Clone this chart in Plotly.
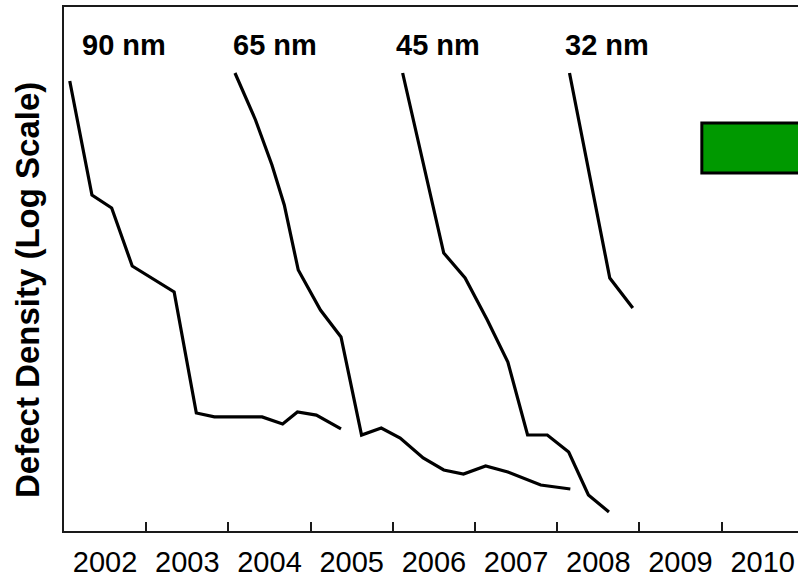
import math
import plotly.graph_objects as go

# Defect density learning curves per technology node (log scale, defects/cm²)
years = [2002, 2003, 2004, 2005, 2006, 2007, 2008, 2009, 2010]
year_labels = [str(y) for y in years]

nm90_x = [2002.07, 2002.34, 2002.58, 2002.83, 2003.34, 2003.61, 2003.83,
          2004.41, 2004.66, 2004.84, 2005.07, 2005.37]
nm90_y = [3.77, 0.839, 0.707, 0.329, 0.2335, 0.0474, 0.0450,
          0.0450, 0.0410, 0.0480, 0.0461, 0.0384]

nm65_x = [2004.08, 2004.33, 2004.53, 2004.68, 2004.85, 2005.12, 2005.37,
          2005.62, 2005.86, 2006.09, 2006.37, 2006.62, 2006.86, 2007.13,
          2007.40, 2007.80, 2008.16]
nm65_y = [4.19, 2.255, 1.245, 0.7355, 0.3121, 0.1842, 0.1290,
          0.03544, 0.03888, 0.03406, 0.02618, 0.02235, 0.02120, 0.02355,
          0.02177, 0.01834, 0.01740]

nm45_x = [2006.12, 2006.62, 2006.88, 2007.15, 2007.40, 2007.64, 2007.88,
          2008.14, 2008.38, 2008.63]
nm45_y = [4.19, 0.3905, 0.2809, 0.1614, 0.0928, 0.03544, 0.03544,
          0.02834, 0.01608, 0.01285]

nm32_x = [2008.15, 2008.64, 2008.92]
nm32_y = [4.19, 0.2809, 0.1891]

# Target window for the next node
target_x = [2009.76, 2011.3]
target_y = [1.121, 2.168]

node_names = ["90 nm", "65 nm", "45 nm", "32 nm"]
node_label_x = [2002.19, 2004.03, 2006.02, 2008.07]
node_label_y = [6.06, 6.06, 6.06, 6.06]

FONT = "Liberation Sans, Arial, Helvetica, sans-serif"
AXIS_COLOR = "#1a1a1a"

fig = go.Figure()
for xs, ys in [(nm90_x, nm90_y), (nm65_x, nm65_y), (nm45_x, nm45_y), (nm32_x, nm32_y)]:
    fig.add_trace(go.Scatter(
        x=xs, y=ys, mode="lines",
        line=dict(color="black", width=3.2),
        showlegend=False, hoverinfo="skip",
    ))

fig.add_shape(
    type="rect", xref="x", yref="y",
    x0=target_x[0], x1=target_x[1], y0=target_y[0], y1=target_y[1],
    fillcolor="#009900", line=dict(color="black", width=3),
)

# annotation positions on a log axis are given in log10 units
for name, lx, ly in zip(node_names, node_label_x, node_label_y):
    fig.add_annotation(
        x=lx, y=math.log10(ly), xref="x", yref="y",
        yanchor="middle", xanchor="left",
        text=f"<b>{name}</b>", showarrow=False,
        font=dict(family=FONT, size=29, color="black"),
    )

fig.add_annotation(
    xref="paper", yref="paper", x=0, y=0.46, xshift=-36,
    xanchor="center", yanchor="middle", textangle=-90,
    text="<b>Defect Density (Log Scale)</b>", showarrow=False,
    font=dict(family=FONT, size=33, color="black"),
)

fig.update_layout(
    width=798, height=579,
    margin=dict(l=64, r=0, t=7, b=48),
    paper_bgcolor="white", plot_bgcolor="white",
    font=dict(family=FONT, color="black"),
    showlegend=False,
    xaxis=dict(
        range=[2002, 2010.93],
        tickmode="array",
        tickvals=[y + 0.5 for y in years],
        ticktext=year_labels,
        ticks="",
        ticklabelstandoff=4,
        tickfont=dict(family=FONT, size=29, color="black"),
        showgrid=False, zeroline=False,
        showline=True, linecolor=AXIS_COLOR, linewidth=2, mirror=True,
        minor=dict(tickmode="array", tickvals=years[1:], ticks="inside",
                   ticklen=9, tickwidth=2, tickcolor=AXIS_COLOR, showgrid=False),
    ),
    yaxis=dict(
        type="log", range=[-2, 1],
        showticklabels=False, ticks="",
        showgrid=False, zeroline=False,
        showline=True, linecolor=AXIS_COLOR, linewidth=2,
    ),
)

fig.write_html("out.html")
